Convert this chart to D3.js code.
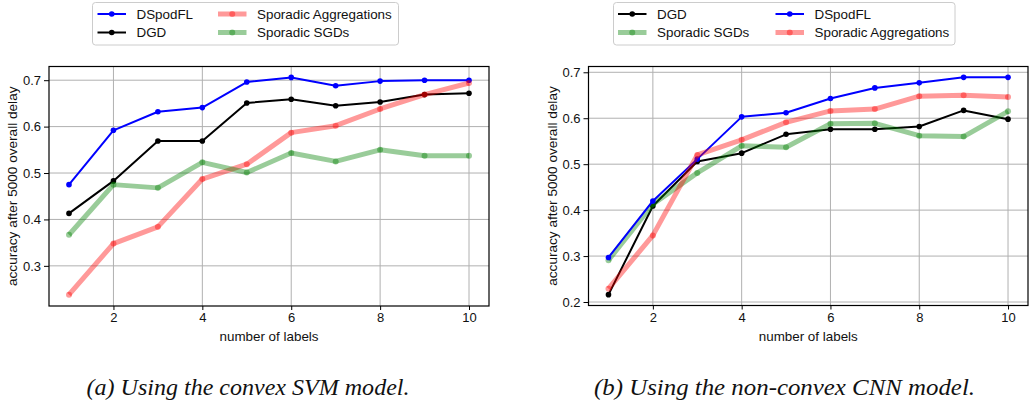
<!DOCTYPE html>
<html>
<head>
<meta charset="utf-8">
<script src="https://cdn.jsdelivr.net/npm/d3@7"></script>
<style>
  html, body { margin: 0; padding: 0; background: #fff; }
  svg { display: block; font-family: "Liberation Sans", Arial, Helvetica, sans-serif; }
</style>
</head>
<body>
<svg id="chart" width="1029" height="404"></svg>
<script>
// ---------- data ----------
const labelsX = [1, 2, 3, 4, 5, 6, 7, 8, 9, 10];
const xTicks = [2, 4, 6, 8, 10];
const yTicksLeft = [0.3, 0.4, 0.5, 0.6, 0.7];
const yTicksRight = [0.2, 0.3, 0.4, 0.5, 0.6, 0.7];

// (a) convex SVM model
const svmDSpodFL = [0.475, 0.592, 0.632, 0.641, 0.696, 0.706, 0.688, 0.698, 0.700, 0.700];
const svmDGD = [0.413, 0.483, 0.569, 0.569, 0.651, 0.659, 0.645, 0.653, 0.669, 0.672];
const svmSporadicAgg = [0.238, 0.348, 0.384, 0.487, 0.519, 0.587, 0.602, 0.638, 0.669, 0.694];
const svmSporadicSGD = [0.367, 0.475, 0.468, 0.523, 0.501, 0.543, 0.525, 0.550, 0.537, 0.537];

// (b) non-convex CNN model
const cnnDGD = [0.216, 0.409, 0.506, 0.524, 0.565, 0.576, 0.576, 0.582, 0.617, 0.598];
const cnnSporadicSGD = [0.291, 0.413, 0.481, 0.540, 0.537, 0.588, 0.589, 0.562, 0.560, 0.615];
const cnnDSpodFL = [0.297, 0.420, 0.511, 0.603, 0.612, 0.643, 0.666, 0.677, 0.689, 0.689];
const cnnSporadicAgg = [0.229, 0.345, 0.520, 0.553, 0.591, 0.616, 0.620, 0.648, 0.650, 0.646];

const xLabel = "number of labels";
const yLabel = "accuracy after 5000 overall delay";
const captionA = "(a) Using the convex SVM model.";
const captionB = "(b) Using the non-convex CNN model.";

// ---------- styles ----------
const styles = {
  "DSpodFL": { color: "#0000ff", width: 2, opacity: 1, r: 2.8 },
  "DGD": { color: "#000000", width: 2, opacity: 1, r: 2.8 },
  "Sporadic Aggregations": { color: "#ff0000", width: 5, opacity: 0.4, r: 3 },
  "Sporadic SGDs": { color: "#008000", width: 5, opacity: 0.4, r: 3 }
};

const svg = d3.select("#chart");

function drawPanel(p) {
  const x = d3.scaleLinear().domain([0.55, 10.45]).range([p.left, p.right]);
  const y = d3.scaleLinear().domain(p.yDomain).range([p.bottom, p.top]);
  const g = svg.append("g");

  // grid
  g.append("g").selectAll("line").data(xTicks).join("line")
    .attr("x1", d => x(d)).attr("x2", d => x(d))
    .attr("y1", p.top).attr("y2", p.bottom)
    .attr("stroke", "#b0b0b0").attr("stroke-width", 1);
  g.append("g").selectAll("line").data(p.yTicks).join("line")
    .attr("y1", d => y(d)).attr("y2", d => y(d))
    .attr("x1", p.left).attr("x2", p.right)
    .attr("stroke", "#b0b0b0").attr("stroke-width", 1);

  // axes
  const xAxis = g.append("g").attr("transform", `translate(0,${p.bottom})`)
    .call(d3.axisBottom(x).tickValues(xTicks).tickFormat(d3.format("d")).tickSize(4).tickPadding(3));
  const yAxis = g.append("g").attr("transform", `translate(${p.left},0)`)
    .call(d3.axisLeft(y).tickValues(p.yTicks).tickFormat(d3.format(".1f")).tickSize(5).tickPadding(3));
  [xAxis, yAxis].forEach(a => {
    a.select(".domain").remove();
    a.selectAll("text").attr("font-size", 13).attr("fill", "#111")
      .style("font-family", "'Liberation Sans', Arial, sans-serif");
    a.selectAll("line").attr("stroke", "#000").attr("stroke-width", 1);
  });

  // series
  const line = d3.line().x((d, i) => x(labelsX[i])).y(d => y(d));
  p.series.forEach(s => {
    const st = styles[s.name];
    const sg = g.append("g");
    sg.append("path").datum(s.values).attr("d", line)
      .attr("fill", "none").attr("stroke", st.color)
      .attr("stroke-width", st.width).attr("stroke-opacity", st.opacity)
      .attr("stroke-linejoin", "round").attr("stroke-linecap", "butt");
    sg.selectAll("circle").data(s.values).join("circle")
      .attr("cx", (d, i) => x(labelsX[i])).attr("cy", d => y(d))
      .attr("r", st.r).attr("fill", st.color).attr("fill-opacity", st.opacity);
  });

  // frame
  g.append("rect").attr("x", p.left).attr("y", p.top)
    .attr("width", p.right - p.left).attr("height", p.bottom - p.top)
    .attr("fill", "none").attr("stroke", "#000").attr("stroke-width", 1.2);

  // labels
  g.append("text").attr("x", (p.left + p.right) / 2).attr("y", 340.5)
    .attr("text-anchor", "middle").attr("font-size", 13.4).attr("fill", "#111").text(xLabel);
  g.append("text").attr("transform", `translate(${p.yLabelX},${(p.top + p.bottom) / 2}) rotate(-90)`)
    .attr("text-anchor", "middle").attr("dy", "0.35em").attr("font-size", 13.6).attr("fill", "#111").text(yLabel);

  // legend
  const lg = g.append("g");
  lg.append("rect").attr("x", p.legend.x0).attr("y", 2.5)
    .attr("width", p.legend.x1 - p.legend.x0).attr("height", 42.5)
    .attr("rx", 3).attr("fill", "#fff").attr("fill-opacity", 0.8)
    .attr("stroke", "#cccccc").attr("stroke-width", 1);
  p.legend.items.forEach(it => {
    const st = styles[it.name];
    const cy = it.row === 0 ? 14 : 32.5;
    const hx = p.legend.cols[it.col];
    lg.append("line").attr("x1", hx).attr("x2", hx + 28.5).attr("y1", cy).attr("y2", cy)
      .attr("stroke", st.color).attr("stroke-width", st.width).attr("stroke-opacity", st.opacity);
    lg.append("circle").attr("cx", hx + 14.25).attr("cy", cy).attr("r", st.r)
      .attr("fill", st.color).attr("fill-opacity", st.opacity);
    lg.append("text").attr("x", hx + 39).attr("y", cy).attr("dy", "0.36em")
      .attr("font-size", 13.4).attr("fill", "#111").text(it.name);
  });

  // caption
  g.append("text").attr("x", p.captionX).attr("y", 395)
    .style("font-family", "'Liberation Serif', 'Times New Roman', serif")
    .style("font-style", "italic").attr("font-size", 24).attr("fill", "#111")
    .attr("textLength", p.captionW).attr("lengthAdjust", "spacingAndGlyphs")
    .text(p.caption);
}

drawPanel({
  left: 49, right: 489, top: 66.5, bottom: 306,
  yDomain: [0.2135, 0.7295], yTicks: yTicksLeft, yLabelX: 12.5,
  series: [
    { name: "DSpodFL", values: svmDSpodFL },
    { name: "DGD", values: svmDGD },
    { name: "Sporadic Aggregations", values: svmSporadicAgg },
    { name: "Sporadic SGDs", values: svmSporadicSGD }
  ],
  legend: {
    x0: 92.5, x1: 398.5, cols: [97.5, 218],
    items: [
      { name: "DSpodFL", col: 0, row: 0 },
      { name: "DGD", col: 0, row: 1 },
      { name: "Sporadic Aggregations", col: 1, row: 0 },
      { name: "Sporadic SGDs", col: 1, row: 1 }
    ]
  },
  caption: captionA, captionX: 86.5, captionW: 323
});

drawPanel({
  left: 588.5, right: 1028, top: 66.5, bottom: 305.5,
  yDomain: [0.1924, 0.7126], yTicks: yTicksRight, yLabelX: 552.5,
  series: [
    { name: "DGD", values: cnnDGD },
    { name: "Sporadic SGDs", values: cnnSporadicSGD },
    { name: "DSpodFL", values: cnnDSpodFL },
    { name: "Sporadic Aggregations", values: cnnSporadicAgg }
  ],
  legend: {
    x0: 613.5, x1: 955, cols: [618, 775.5],
    items: [
      { name: "DGD", col: 0, row: 0 },
      { name: "Sporadic SGDs", col: 0, row: 1 },
      { name: "DSpodFL", col: 1, row: 0 },
      { name: "Sporadic Aggregations", col: 1, row: 1 }
    ]
  },
  caption: captionB, captionX: 594, captionW: 381
});
</script>
</body>
</html>
